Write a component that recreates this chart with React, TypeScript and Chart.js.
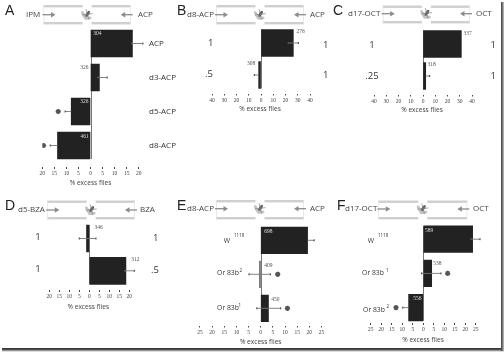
import React, { useEffect, useRef } from "react";
import { Chart, registerables } from "chart.js";

Chart.register(...registerables);

// ---------- data ----------
const aValues = [17.4, 3.7, -8, -13.7];
const aErrLow = [17, 3, -10.5, -16.7];
const aErrHigh = [21.7, 6.9, -8, -13.7];
const aStars = [null, null, -13.4, -19.5];
const aCounts = ["304", "326", "326", "461"];
const aCategories = ["ACP", "d3-ACP", "d5-ACP", "d8-ACP"];

const bValues = [26.4, -1.9];
const bErrLow = [22.3, -5.4];
const bErrHigh = [30.5, -1.9];
const bCounts = ["276", "308"];
const bLeft = ["1", ".5"];
const bRight = ["1", "1"];

const cValues = [31.3, 2.2];
const cErrLow = [31.3, 2.2];
const cErrHigh = [31.3, 5.4];
const cCounts = ["337", "318"];
const cLeft = ["1", ".25"];
const cRight = ["1", "1"];

const dValues = [-1.4, 18.3];
const dErrLow = [-5, 17.8];
const dErrHigh = [3.3, 22.5];
const dCounts = ["346", "312"];
const dLeft = ["1", "1"];
const dRight = ["1", ".5"];

const eValues = [19.3, -0.4, 3.2];
const eErrLow = [19.3, -4.8, -1.6];
const eErrHigh = [22, 4, 8.2];
const eStars = [null, 7, 11];
const eCounts = ["698", "409", "450"];
const eCategories = ["W", "Or 83b", "Or 83b"];
const eSuper = ["1118", "2", "1"];

const fValues = [23.5, 4, -7];
const fErrLow = [22.7, -0.8, -9.8];
const fErrHigh = [27, 8.4, -7];
const fStars = [null, 11.6, -13];
const fCounts = ["589", "538", "556"];
const fCategories = ["W", "Or 83b", "Or 83b"];
const fSuper = ["1118", "1", "2"];

const axisLabel = "% excess flies";

// ---------- panel layout ----------
type Txt = [string, number, number];
type Panel = {
  letter: string; letterX: number; letterY: number;
  leftOdor: string; leftOdorX: number; rightOdor: string; rightOdorX: number;
  tubeL: number; tubeR: number; tubeTop: number; tubeBot: number; midY: number;
  zeroX: number; pxPerUnit: number; range: number; step: number;
  firstRow: number; rowGap: number; barH: number; tickY: number; labelY: number; labelX: number;
  values: number[]; errLow: number[]; errHigh: number[]; stars?: (number | null)[];
  counts: string[]; countPos: [number, number, string][];
  texts: Txt[]; textSize: number; textAlign: "left" | "center"; supers?: Txt[];
};

const panels: Panel[] = [
  {
    letter: "A", letterX: 5, letterY: 11, leftOdor: "IPM", leftOdorX: 26, rightOdor: "ACP", rightOdorX: 138,
    tubeL: 43.5, tubeR: 130.7, tubeTop: 5, tubeBot: 22, midY: 14.7,
    zeroX: 90.5, pxPerUnit: 2.41, range: 20, step: 5, firstRow: 43.5, rowGap: 34, barH: 27, tickY: 167, labelY: 183, labelX: 90.5,
    values: aValues, errLow: aErrLow, errHigh: aErrHigh, stars: aStars, counts: aCounts,
    countPos: [[97.3, 34, "#ddd"], [84.3, 68, "#555"], [84.3, 101.7, "#ddd"], [84.7, 136.3, "#ddd"]],
    texts: aCategories.map((c, i): Txt => [c, 149, 43.7 + i * 34]), textSize: 8, textAlign: "left",
  },
  {
    letter: "B", letterX: 177, letterY: 11, leftOdor: "d8-ACP", leftOdorX: 187, rightOdor: "ACP", rightOdorX: 310,
    tubeL: 216, tubeR: 304, tubeTop: 5, tubeBot: 22, midY: 14.7,
    zeroX: 261, pxPerUnit: 1.225, range: 40, step: 10, firstRow: 43, rowGap: 32, barH: 27, tickY: 93.5, labelY: 109, labelX: 260,
    values: bValues, errLow: bErrLow, errHigh: bErrHigh, counts: bCounts,
    countPos: [[300.7, 31.7, "#555"], [251, 64, "#555"]],
    texts: [[bLeft[0], 210.7, 43.7], [bLeft[1], 209, 74.7], [bRight[0], 325.7, 45.7], [bRight[1], 325.7, 75]], textSize: 9.5, textAlign: "center",
  },
  {
    letter: "C", letterX: 333, letterY: 11, leftOdor: "d17-OCT", leftOdorX: 348, rightOdor: "OCT", rightOdorX: 476,
    tubeL: 382.7, tubeR: 470, tubeTop: 5.5, tubeBot: 21, midY: 13.7,
    zeroX: 423, pxPerUnit: 1.225, range: 40, step: 10, firstRow: 44, rowGap: 32, barH: 27, tickY: 94.5, labelY: 110.3, labelX: 422,
    values: cValues, errLow: cErrLow, errHigh: cErrHigh, counts: cCounts,
    countPos: [[467.7, 33.3, "#555"], [431.7, 65, "#555"]],
    texts: [[cLeft[0], 372, 45], [cLeft[1], 372, 76], [cRight[0], 493.3, 45], [cRight[1], 493.3, 76]], textSize: 9.5, textAlign: "center",
  },
  {
    letter: "D", letterX: 5, letterY: 206, leftOdor: "d5-BZA", leftOdorX: 18, rightOdor: "BZA", rightOdorX: 140,
    tubeL: 47.3, tubeR: 135, tubeTop: 200.5, tubeBot: 217, midY: 210,
    zeroX: 89.3, pxPerUnit: 2, range: 20, step: 5, firstRow: 238.5, rowGap: 32.3, barH: 27, tickY: 290, labelY: 307.3, labelX: 88.3,
    values: dValues, errLow: dErrLow, errHigh: dErrHigh, counts: dCounts,
    countPos: [[98.7, 228, "#555"], [135.3, 259.3, "#555"]],
    texts: [[dLeft[0], 38, 237.3], [dLeft[1], 38, 269], [dRight[0], 155.7, 238.7], [dRight[1], 155, 270.7]], textSize: 9.5, textAlign: "center",
  },
  {
    letter: "E", letterX: 177, letterY: 206, leftOdor: "d8-ACP", leftOdorX: 187, rightOdor: "ACP", rightOdorX: 310,
    tubeL: 216, tubeR: 304, tubeTop: 200, tubeBot: 217, midY: 208.7,
    zeroX: 260.7, pxPerUnit: 2.43, range: 25, step: 5, firstRow: 240.3, rowGap: 34, barH: 26.5, tickY: 325.5, labelY: 342.3, labelX: 260.7,
    values: eValues, errLow: eErrLow, errHigh: eErrHigh, stars: eStars, counts: eCounts,
    countPos: [[268.3, 231.3, "#ddd"], [268.3, 266, "#555"], [275.3, 300, "#555"]],
    texts: [[eCategories[0], 227, 240.7], [eCategories[1], 228, 272.7], [eCategories[2], 228, 307.7]], textSize: 6.8, textAlign: "center",
    supers: [[eSuper[0], 234, 235.5], [eSuper[1], 239.5, 271], [eSuper[2], 238.5, 306]],
  },
  {
    letter: "F", letterX: 337, letterY: 206, leftOdor: "d17-OCT", leftOdorX: 345, rightOdor: "OCT", rightOdorX: 473,
    tubeL: 378.3, tubeR: 467.3, tubeTop: 200.5, tubeBot: 217, midY: 209,
    zeroX: 423.3, pxPerUnit: 2.1, range: 25, step: 5, firstRow: 239.2, rowGap: 34.2, barH: 26.5, tickY: 323, labelY: 340.3, labelX: 423,
    values: fValues, errLow: fErrLow, errHigh: fErrHigh, stars: fStars, counts: fCounts,
    countPos: [[429, 231, "#ddd"], [437.3, 263.3, "#555"], [417.3, 298.7, "#ddd"]],
    texts: [[fCategories[0], 371, 240.7], [fCategories[1], 373, 272.7], [fCategories[2], 374, 310]], textSize: 6.8, textAlign: "center",
    supers: [[fSuper[0], 378, 236], [fSuper[1], 386, 271], [fSuper[2], 386.5, 307]],
  },
];

const W = 504;
const H = 352;
const SANS = '"Open Sans", sans-serif';
const SERIF = '"Liberation Serif", serif';

function arrow(ctx: CanvasRenderingContext2D, x0: number, x1: number, y: number) {
  const d = x1 > x0 ? 1 : -1;
  ctx.strokeStyle = "#8c8c8c";
  ctx.fillStyle = "#8c8c8c";
  ctx.lineWidth = 1.3;
  ctx.beginPath();
  ctx.moveTo(x0, y);
  ctx.lineTo(x1 - d * 3, y);
  ctx.stroke();
  ctx.beginPath();
  ctx.moveTo(x1, y);
  ctx.lineTo(x1 - d * 4.5, y - 2.8);
  ctx.lineTo(x1 - d * 4.5, y + 2.8);
  ctx.closePath();
  ctx.fill();
}

function fly(ctx: CanvasRenderingContext2D, x: number, y: number) {
  ctx.save();
  ctx.translate(x, y);
  ctx.rotate(0.6);
  ctx.fillStyle = "#c4c4c4";
  ctx.beginPath();
  ctx.ellipse(-3, 2, 4, 1.6, 0.5, 0, Math.PI * 2);
  ctx.ellipse(2.5, 2.5, 4, 1.6, -0.7, 0, Math.PI * 2);
  ctx.fill();
  ctx.fillStyle = "#666";
  ctx.beginPath();
  ctx.ellipse(0, -1, 1.5, 3.5, 0, 0, Math.PI * 2);
  ctx.fill();
  ctx.strokeStyle = "#777";
  ctx.lineWidth = 0.6;
  ctx.beginPath();
  ctx.moveTo(-4, -4); ctx.lineTo(4, 3);
  ctx.moveTo(4, -4); ctx.lineTo(-4, 3);
  ctx.stroke();
  ctx.restore();
}

function makePlugin(p: Panel) {
  return {
    id: "panelArt",
    beforeDatasetsDraw(chart: any) {
      const ctx: CanvasRenderingContext2D = chart.ctx;
      const y = chart.scales.y;
      const x = chart.scales.x;
      ctx.save();
      ctx.strokeStyle = "#777";
      ctx.lineWidth = 1;
      ctx.beginPath();
      const x0 = Math.round(x.getPixelForValue(0)) + 0.5;
      ctx.moveTo(x0, y.getPixelForValue(0) - p.barH / 2);
      ctx.lineTo(x0, y.getPixelForValue(p.values.length - 1) + p.barH / 2);
      ctx.stroke();
      ctx.restore();
    },
    afterDatasetsDraw(chart: any) {
      const ctx: CanvasRenderingContext2D = chart.ctx;
      const xs = chart.scales.x;
      const ys = chart.scales.y;
      ctx.save();
      // error bars
      ctx.strokeStyle = "#777";
      ctx.fillStyle = "#555";
      ctx.lineWidth = 0.9;
      p.values.forEach((_, i) => {
        const yy = ys.getPixelForValue(i);
        const lo = xs.getPixelForValue(p.errLow[i]);
        const hi = xs.getPixelForValue(p.errHigh[i]);
        ctx.beginPath();
        ctx.moveTo(lo, yy);
        ctx.lineTo(hi, yy);
        ctx.stroke();
        [lo, hi].forEach((e) => {
          const isBarEnd = p.errLow[i] === p.errHigh[i] || e === xs.getPixelForValue(p.values[i]);
          if (!isBarEnd) ctx.fillRect(e - 0.6, yy - 1, 1.2, 2);
        });
      });
      // counts
      ctx.textAlign = "center";
      ctx.textBaseline = "middle";
      ctx.font = `5.5px ${SERIF}`;
      p.countPos.forEach(([cx, cy, col], i) => {
        ctx.fillStyle = col;
        ctx.fillText(p.counts[i], cx, cy);
      });
      // side text
      ctx.fillStyle = "#333";
      ctx.font = `${p.textSize}px ${SANS}`;
      ctx.textAlign = p.textAlign;
      p.texts.forEach(([t, tx, ty]) => ctx.fillText(t, tx, ty));
      ctx.textAlign = "left";
      ctx.font = `4.5px ${SANS}`;
      (p.supers || []).forEach(([t, tx, ty]) => ctx.fillText(t, tx, ty));
      // x axis title
      ctx.textAlign = "center";
      ctx.font = `6.6px ${SANS}`;
      ctx.fillStyle = "#444";
      ctx.fillText(axisLabel, p.labelX, p.labelY);
      // header tube
      const cx = (p.tubeL + p.tubeR) / 2;
      ctx.fillStyle = "#cfcfcf";
      ctx.fillRect(p.tubeL, p.tubeTop, cx - 4.5 - p.tubeL, 2.4);
      ctx.fillRect(cx + 4.5, p.tubeTop, p.tubeR - cx - 4.5, 2.4);
      ctx.fillRect(p.tubeL, p.tubeBot, cx - 4.5 - p.tubeL, 2.4);
      ctx.fillRect(cx + 4.5, p.tubeBot, p.tubeR - cx - 4.5, 2.4);
      ctx.fillStyle = "#e4e4e4";
      ctx.fillRect(p.tubeL, p.tubeTop, 0.8, p.tubeBot - p.tubeTop + 2.4);
      ctx.fillRect(p.tubeR - 0.8, p.tubeTop, 0.8, p.tubeBot - p.tubeTop + 2.4);
      fly(ctx, cx, p.midY);
      arrow(ctx, p.tubeL - 1, p.tubeL + 12, p.midY);
      arrow(ctx, p.tubeR + 2, p.tubeR - 10, p.midY);
      // header text
      ctx.fillStyle = "#444";
      ctx.textAlign = "left";
      ctx.font = `8px ${SANS}`;
      ctx.fillText(p.leftOdor, p.leftOdorX, p.midY);
      ctx.fillText(p.rightOdor, p.rightOdorX, p.midY);
      ctx.fillStyle = "#222";
      ctx.font = `14px "Liberation Sans", sans-serif`;
      ctx.fillText(p.letter, p.letterX, p.letterY);
      ctx.restore();
    },
  };
}

function PanelChart({ panel }: { panel: Panel }) {
  const ref = useRef<HTMLCanvasElement>(null);
  useEffect(() => {
    const p = panel;
    const datasets: any[] = [
      {
        type: "bar",
        data: p.values.map((v, i) => ({ x: v, y: i })),
        backgroundColor: "#222222",
        barThickness: p.barH,
        barPercentage: 1,
        categoryPercentage: 1,
        indexAxis: "y",
      },
    ];
    if (p.stars) {
      datasets.push({
        type: "scatter",
        data: p.stars.map((v, i) => (v === null ? null : { x: v, y: i })).filter(Boolean),
        pointStyle: "star",
        pointRadius: 2.6,
        borderColor: "#555",
        borderWidth: 1.5,
        backgroundColor: "#555",
      });
    }
    const chart = new Chart(ref.current!, {
      type: "bar",
      data: { datasets },
      plugins: [makePlugin(p)],
      options: {
        indexAxis: "y",
        animation: false,
        responsive: false,
        events: [],
        layout: {
          padding: {
            left: p.zeroX - p.range * p.pxPerUnit,
            right: W - (p.zeroX + p.range * p.pxPerUnit),
            top: p.firstRow - p.rowGap / 2,
            bottom: H - p.tickY - 10,
          },
        },
        plugins: { legend: { display: false }, tooltip: { enabled: false } },
        scales: {
          x: {
            type: "linear",
            min: -p.range,
            max: p.range,
            afterFit: (s: any) => { s.height = 10; },
            border: { display: false },
            grid: { drawOnChartArea: false, drawTicks: true, tickLength: 2, tickColor: "#444", tickWidth: 1 },
            ticks: {
              stepSize: p.step,
              maxRotation: 0,
              autoSkip: false,
              padding: 1.5,
              color: "#444",
              font: { family: "Liberation Serif", size: 5.5 },
              callback: (v: any) => String(Math.abs(Number(v))),
            },
          },
          y: {
            type: "linear",
            display: false,
            reverse: true,
            offset: false,
            min: -0.5,
            max: (p.tickY - p.firstRow) / p.rowGap,
          },
        },
      },
    } as any);
    return () => chart.destroy();
  }, [panel]);
  return (
    <canvas
      ref={ref}
      width={W}
      height={H}
      style={{ position: "absolute", left: 0, top: 0, width: W, height: H }}
    />
  );
}

export default function App() {
  return (
    <div style={{ position: "fixed", left: 0, top: 0, width: W, height: H, background: "#fff", overflow: "hidden" }}>
      <div style={{ position: "absolute", inset: 0, filter: "blur(0.35px)" }}>
        {panels.map((p) => (
          <PanelChart key={p.letter} panel={p} />
        ))}
      </div>
      <div style={{ position: "absolute", left: 2, top: 348, width: 502, height: 4, background: "linear-gradient(#333 0%, #444 35%, #bbb 75%, #fff 100%)" }} />
      <div style={{ position: "absolute", left: 501, top: 2, width: 3, height: 349, background: "linear-gradient(90deg, #444 0%, #666 40%, #ccc 100%)" }} />
    </div>
  );
}
